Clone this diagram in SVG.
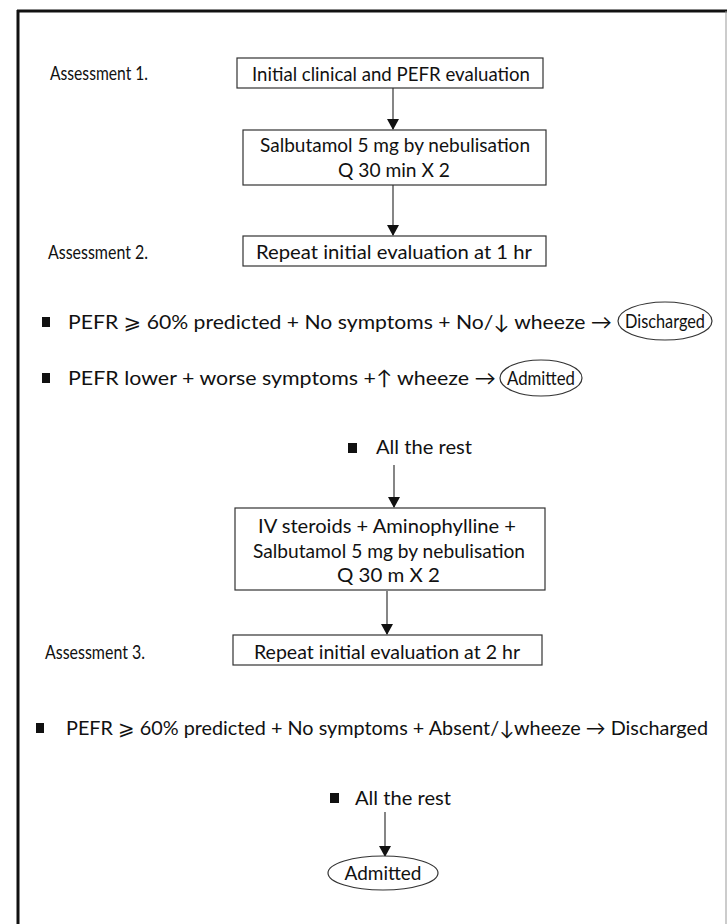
<svg xmlns="http://www.w3.org/2000/svg" width="727" height="924" viewBox="0 0 727 924">
<style>
text{font-family:"Lato","Open Sans","DejaVu Sans",sans-serif;font-size:20px;fill:#111}
.box{fill:#fff;stroke:#333;stroke-width:1.2}
.ell{fill:#fff;stroke:#333;stroke-width:1.2}
.c line{stroke:#222;stroke-width:1.1}
.mid{text-anchor:middle}
</style>
<defs>
<marker id="ah2" markerWidth="12" markerHeight="12" refX="10" refY="6" orient="auto" markerUnits="userSpaceOnUse">
<path d="M0,0 L11,6 L0,12 Z" fill="#111"/>
</marker>
</defs>
<rect width="727" height="924" fill="#fff"/>
<g id="frame">
<line x1="17" y1="11" x2="727" y2="11" stroke="#111" stroke-width="3"/>
<line x1="18" y1="10" x2="18" y2="924" stroke="#111" stroke-width="3"/>
<line x1="726" y1="11" x2="726" y2="924" stroke="#999" stroke-width="1"/>
</g>
<g class="c" id="connectors">
<line x1="393" y1="88" x2="393" y2="129" marker-end="url(#ah2)"/>
<line x1="393" y1="185" x2="393" y2="235" marker-end="url(#ah2)"/>
<line x1="394" y1="465" x2="394" y2="507" marker-end="url(#ah2)"/>
<line x1="387" y1="591" x2="387" y2="634" marker-end="url(#ah2)"/>
<line x1="385" y1="812" x2="385" y2="856" marker-end="url(#ah2)"/>
</g>
<g id="label1"><text x="50" y="80" textLength="98" lengthAdjust="spacingAndGlyphs">Assessment 1.</text></g>
<g id="n1"><rect class="box" x="237" y="58" width="306" height="30"/><text x="252" y="81" textLength="278" lengthAdjust="spacingAndGlyphs">Initial clinical and PEFR evaluation</text></g>
<g id="n2"><rect class="box" x="243" y="130" width="303" height="55"/>
<text x="260" y="152" textLength="270" lengthAdjust="spacingAndGlyphs">Salbutamol 5 mg by nebulisation</text>
<text x="338" y="177" textLength="112" lengthAdjust="spacingAndGlyphs">Q 30 min X 2</text></g>
<g id="label2"><text x="48" y="259" textLength="100" lengthAdjust="spacingAndGlyphs">Assessment 2.</text></g>
<g id="n3"><rect class="box" x="243" y="236" width="303" height="30"/><text x="256" y="259" textLength="276" lengthAdjust="spacingAndGlyphs">Repeat initial evaluation at 1 hr</text></g>
<g id="b1"><rect x="42" y="317" width="8" height="10" fill="#111"/>
<text x="68" y="329" textLength="544" lengthAdjust="spacingAndGlyphs">PEFR ⩾ 60% predicted + No symptoms + No/↓ wheeze →</text></g>
<g id="n_discharged"><ellipse class="ell" cx="665" cy="321" rx="47" ry="19"/><text class="mid" x="665" y="328" textLength="80" lengthAdjust="spacingAndGlyphs">Discharged</text></g>
<g id="b2"><rect x="42" y="373" width="8" height="10" fill="#111"/>
<text x="68" y="385" textLength="428" lengthAdjust="spacingAndGlyphs">PEFR lower + worse symptoms +↑ wheeze →</text></g>
<g id="n_admitted1"><ellipse class="ell" cx="541" cy="378" rx="41" ry="18"/><text class="mid" x="541" y="385" textLength="68" lengthAdjust="spacingAndGlyphs">Admitted</text></g>
<g id="rest1"><rect x="348" y="443" width="9" height="10" fill="#111"/><text x="376" y="454" textLength="96" lengthAdjust="spacingAndGlyphs">All the rest</text></g>
<g id="n4"><rect class="box" x="235" y="508" width="310" height="82"/>
<text x="258" y="533" textLength="258" lengthAdjust="spacingAndGlyphs">IV steroids + Aminophylline +</text>
<text x="253" y="558" textLength="272" lengthAdjust="spacingAndGlyphs">Salbutamol 5 mg by nebulisation</text>
<text x="337" y="582" textLength="103" lengthAdjust="spacingAndGlyphs">Q 30 m X 2</text></g>
<g id="label3"><text x="45" y="659" textLength="100" lengthAdjust="spacingAndGlyphs">Assessment 3.</text></g>
<g id="n5"><rect class="box" x="233" y="635" width="309" height="30"/><text x="254" y="659" textLength="266" lengthAdjust="spacingAndGlyphs">Repeat initial evaluation at 2 hr</text></g>
<g id="b3"><rect x="36" y="723" width="8" height="10" fill="#111"/>
<text x="66" y="735" textLength="642" lengthAdjust="spacingAndGlyphs">PEFR ⩾ 60% predicted + No symptoms + Absent/↓wheeze → Discharged</text></g>
<g id="rest2"><rect x="330" y="793" width="9" height="10" fill="#111"/><text x="355" y="805" textLength="96" lengthAdjust="spacingAndGlyphs">All the rest</text></g>
<g id="n_admitted2"><ellipse class="ell" cx="383" cy="873" rx="55" ry="17"/><text class="mid" x="383" y="880" textLength="77" lengthAdjust="spacingAndGlyphs">Admitted</text></g>
</svg>
